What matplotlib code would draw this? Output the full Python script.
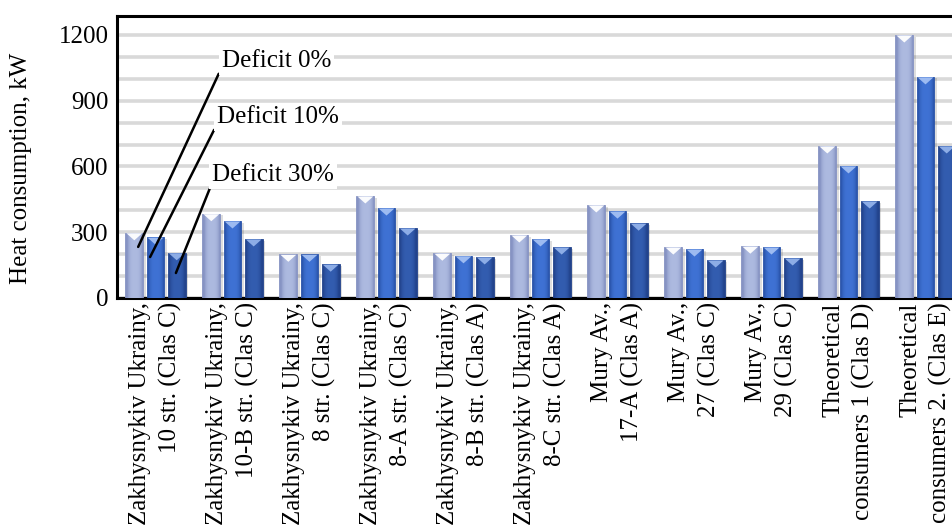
import numpy as np
import matplotlib
matplotlib.use("Agg")
import matplotlib.pyplot as plt
from matplotlib.colors import to_rgb
from matplotlib.patches import Polygon

plt.rcParams['font.family'] = ['Liberation Serif', 'DejaVu Serif']

# Heat consumption per consumer under three deficit scenarios, kW
consumers = [
    "Zakhysnykiv Ukrainy,\n10 str. (Clas C)",
    "Zakhysnykiv Ukrainy,\n10-B str. (Clas C)",
    "Zakhysnykiv Ukrainy,\n8 str. (Clas C)",
    "Zakhysnykiv Ukrainy,\n8-A str. (Clas C)",
    "Zakhysnykiv Ukrainy,\n8-B str. (Clas A)",
    "Zakhysnykiv Ukrainy,\n8-C str. (Clas A)",
    "Mury Av.,\n17-A (Clas A)",
    "Mury Av.,\n27 (Clas C)",
    "Mury Av.,\n29 (Clas C)",
    "Theoretical\nconsumers 1 (Clas D)",
    "Theoretical\nconsumers 2. (Clas E)",
]
deficit_0 = [298, 385, 200, 466, 205, 288, 425, 233, 237, 694, 1200]
deficit_10 = [278, 352, 200, 411, 193, 270, 397, 224, 233, 603, 1009]
deficit_30 = [207, 270, 155, 320, 188, 233, 342, 174, 183, 443, 694]
series_names = ["Deficit 0%", "Deficit 10%", "Deficit 30%"]
yticks = [0, 300, 600, 900, 1200]

FS = 18

# edge / centre / top-highlight colours of each series
styles = [
    ("#8693c3", "#adbae0", "#ffffff"),
    ("#2a54aa", "#3f72d4", "#a3c0f3"),
    ("#22438c", "#335db0", "#93b2ea"),
]

fig = plt.figure(figsize=(9.52, 5.27), dpi=100)
ax = fig.add_axes([117 / 952, 1 - 298 / 527, 847 / 952, 282 / 527])

x = np.arange(len(consumers))
width = 0.232
step = 0.275
series = [deficit_0, deficit_10, deficit_30]

for k, vals in enumerate(series):
    edge, centre, top = styles[k]
    bars = ax.bar(x + (k - 1) * step, vals, width, color=edge, zorder=3,
                  edgecolor=edge, linewidth=0.6)
    e = np.array(to_rgb(edge))
    c = np.array(to_rgb(centre))
    t = np.linspace(-1, 1, 40)
    w = (1 - np.abs(t) ** 3)[:, None]
    grad = (e + (c - e) * w)[None, :, :]
    for b in bars:
        x0, bw, h = b.get_x(), b.get_width(), b.get_height()
        # soft shadow on the right
        ax.bar(x0 + bw / 2 + 0.03, h - 8, bw, bottom=0, color="#000000",
               alpha=0.13, zorder=2, linewidth=0)
        ax.imshow(grad, extent=(x0 + 0.015, x0 + bw - 0.015, 0, h - 4),
                  aspect='auto', zorder=4, interpolation='bilinear')
        d = 32
        tri = Polygon([(x0 + 0.06 * bw, h - 3), (x0 + 0.94 * bw, h - 3),
                       (x0 + 0.5 * bw, h - 3 - d)], closed=True,
                      facecolor=top, edgecolor='none', zorder=5, alpha=0.95)
        ax.add_patch(tri)

ax.set_xlim(-0.5, len(consumers) - 0.5)
ax.set_ylim(0, 1286)
ax.set_yticks(yticks)
ax.set_yticks(np.arange(0, 1201, 100), minor=True)
ax.grid(axis='y', which='both', color='#d9d9d9', linewidth=2.6, zorder=0)
ax.set_axisbelow(True)

ax.set_xticks(x)
ax.set_xticklabels(consumers, rotation=90, ha='center', va='top',
                   multialignment='right', linespacing=1.4, fontsize=FS)
ax.tick_params(axis='both', which='both', length=0)
ax.tick_params(axis='y', labelsize=FS, pad=6)
ax.tick_params(axis='x', pad=3)
ax.set_ylabel("Heat consumption, kW", fontsize=FS)
ax.yaxis.set_label_coords(-0.100, 0.461)

for side in ['left', 'bottom', 'top']:
    ax.spines[side].set_linewidth(2.2)
    ax.spines[side].set_color('black')
ax.spines['right'].set_visible(False)

# leader lines from the first group to the series names
anchors = [(x[0] - step + 0.05, 233), (x[0] - 0.07, 187), (x[0] + step - 0.01, 114)]
text_pos = [(0.86, 1082), (0.80, 824), (0.74, 560)]
for name, xy, xt in zip(series_names, anchors, text_pos):
    ax.annotate(name, xy=xy, xytext=xt, ha='left', va='center', fontsize=FS,
                zorder=7,
                bbox=dict(boxstyle='square,pad=0.12', facecolor='white',
                          edgecolor='none'),
                arrowprops=dict(arrowstyle='-', color='black', lw=1.8,
                                shrinkA=0, shrinkB=0, relpos=(0, 0.2)))

fig.savefig("out.png", dpi=100)
